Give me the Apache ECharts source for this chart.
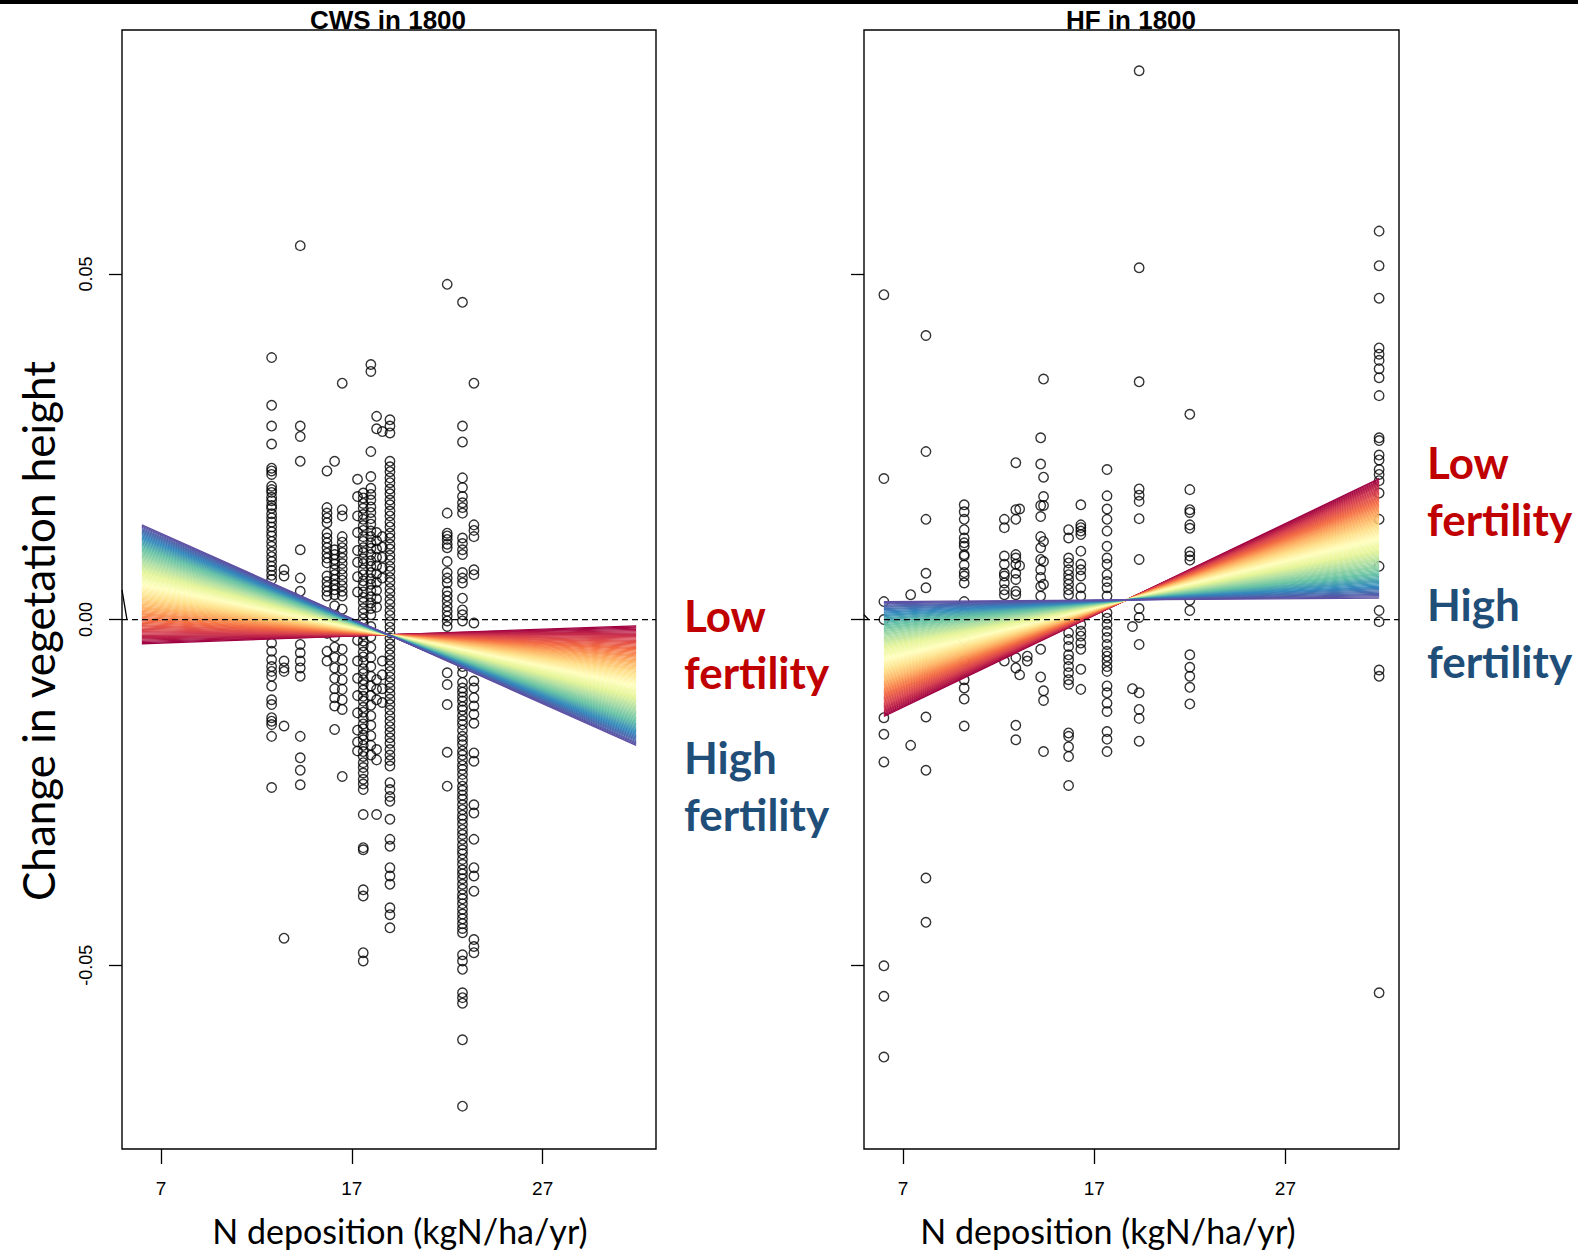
<!DOCTYPE html>
<html>
<head>
<meta charset="utf-8">
<title>Change in vegetation height vs N deposition</title>
<script src="https://cdn.jsdelivr.net/npm/echarts@6/dist/echarts.min.js"></script>
<style>
  html, body { margin: 0; padding: 0; background: #fff; }
  #chart { width: 1578px; height: 1251px; }
</style>
</head>
<body>
<div id="chart"></div>
<script>
// N deposition of each site group (kgN/ha/yr) and the observed change in height
const cwsN = [12.8, 13.45, 14.3, 15.7, 16.1, 16.5, 17.3, 17.6, 18.0, 18.3, 18.6, 19.0, 22.0, 22.8, 23.4];
const cwsChange = [
  [0.0379, 0.0310, 0.0280, 0.0254, 0.0219, 0.0215, 0.0210, 0.0193, 0.0188, 0.0184, 0.0177, 0.0172, 0.0165, 0.0161, 0.0153, 0.0147, 0.0141, 0.0134, 0.0127, 0.0121, 0.0113, 0.0106, 0.0098, 0.0091, 0.0084, 0.0077, 0.0071, 0.0064, 0.0058, 0.0044, 0.0029, 0.0012, -0.0034, -0.0046, -0.0058, -0.0068, -0.0075, -0.0082, -0.0096, -0.0116, -0.0123, -0.0142, -0.0147, -0.0152, -0.0169, -0.0243],
  [0.0072, 0.0063, -0.0060, -0.0070, -0.0075, -0.0154, -0.0461],
  [0.0541, 0.0280, 0.0265, 0.0229, 0.0101, 0.0060, 0.0041, -0.0036, -0.0048, -0.0060, -0.0070, -0.0082, -0.0169, -0.0200, -0.0218, -0.0239],
  [0.0215, 0.0162, 0.0154, 0.0147, 0.0140, 0.0125, 0.0118, 0.0111, 0.0104, 0.0096, 0.0089, 0.0082, 0.0063, 0.0055, 0.0048, 0.0041, 0.0034, 0.0010, -0.0020, -0.0046, -0.0060],
  [0.0229, 0.0101, 0.0094, 0.0087, 0.0080, 0.0072, 0.0065, 0.0058, 0.0050, 0.0043, 0.0036, 0.0020, 0.0005, -0.0010, -0.0025, -0.0040, -0.0055, -0.0070, -0.0085, -0.0100, -0.0113, -0.0125, -0.0159],
  [0.0342, 0.0159, 0.0150, 0.0120, 0.0112, 0.0104, 0.0097, 0.0089, 0.0081, 0.0073, 0.0065, 0.0057, 0.0049, 0.0041, 0.0034, 0.0015, -0.0005, -0.0043, -0.0058, -0.0072, -0.0087, -0.0101, -0.0116, -0.0130, -0.0227],
  [0.0203, 0.0178, 0.0150, 0.0126, 0.0100, 0.0083, 0.0062, 0.0040, -0.0030, -0.0060, -0.0085, -0.0110, -0.0135, -0.0160, -0.0177, -0.0190],
  [0.0183, 0.0176, 0.0168, 0.0161, 0.0152, 0.0145, 0.0136, 0.0129, 0.0120, 0.0113, 0.0104, 0.0097, 0.0088, 0.0081, 0.0072, 0.0065, 0.0056, 0.0049, 0.0040, 0.0032, 0.0025, 0.0016, 0.0009, 0.0001, -0.0006, -0.0014, -0.0022, -0.0031, -0.0038, -0.0047, -0.0054, -0.0062, -0.0071, -0.0078, -0.0087, -0.0094, -0.0102, -0.0111, -0.0118, -0.0127, -0.0134, -0.0142, -0.0151, -0.0158, -0.0167, -0.0174, -0.0182, -0.0191, -0.0198, -0.0207, -0.0214, -0.0222, -0.0231, -0.0238, -0.0246, -0.0282, -0.0330, -0.0333, -0.0391, -0.0400, -0.0482, -0.0494],
  [0.0369, 0.0359, 0.0243, 0.0207, 0.0190, 0.0181, 0.0173, 0.0163, 0.0155, 0.0146, 0.0138, 0.0128, 0.0120, 0.0111, 0.0103, 0.0094, 0.0085, 0.0077, 0.0068, 0.0059, 0.0051, 0.0042, 0.0033, 0.0024, 0.0016, 0.0007, -0.0010, -0.0025, -0.0040, -0.0055, -0.0068, -0.0082, -0.0096, -0.0110, -0.0124, -0.0139, -0.0153, -0.0168, -0.0182, -0.0196],
  [0.0294, 0.0276, 0.0126, 0.0114, 0.0102, 0.0090, 0.0078, 0.0066, 0.0054, 0.0042, 0.0030, 0.0018, -0.0087, -0.0101, -0.0116, -0.0188, -0.0203, -0.0282],
  [0.0272, 0.0120, 0.0105, 0.0090, 0.0075, 0.0060, -0.0060, -0.0080, -0.0100, -0.0120],
  [0.0289, 0.0280, 0.0270, 0.0229, 0.0221, 0.0214, 0.0205, 0.0198, 0.0189, 0.0182, 0.0173, 0.0166, 0.0157, 0.0150, 0.0141, 0.0134, 0.0125, 0.0118, 0.0109, 0.0102, 0.0093, 0.0086, 0.0077, 0.0070, 0.0061, 0.0054, 0.0045, 0.0038, 0.0029, 0.0022, 0.0013, 0.0006, -0.0003, -0.0011, -0.0019, -0.0027, -0.0035, -0.0043, -0.0051, -0.0059, -0.0067, -0.0075, -0.0083, -0.0091, -0.0099, -0.0107, -0.0115, -0.0123, -0.0131, -0.0139, -0.0147, -0.0155, -0.0163, -0.0171, -0.0179, -0.0188, -0.0196, -0.0204, -0.0212, -0.0236, -0.0246, -0.0256, -0.0263, -0.0289, -0.0318, -0.0328, -0.0359, -0.0371, -0.0383, -0.0417, -0.0427, -0.0446],
  [0.0485, 0.0154, 0.0125, 0.0121, 0.0116, 0.0109, 0.0104, 0.0084, 0.0068, 0.0060, 0.0053, 0.0041, 0.0034, 0.0027, 0.0019, 0.0012, 0.0005, -0.0002, -0.0010, -0.0077, -0.0094, -0.0123, -0.0192, -0.0241],
  [0.0459, 0.0280, 0.0257, 0.0205, 0.0191, 0.0178, 0.0169, 0.0162, 0.0154, 0.0118, 0.0110, 0.0101, 0.0094, 0.0068, 0.0060, 0.0053, 0.0031, 0.0014, 0.0007, -0.0002, -0.0030, -0.0050, -0.0068, -0.0077, -0.0091, -0.0099, -0.0105, -0.0112, -0.0118, -0.0126, -0.0131, -0.0139, -0.0146, -0.0152, -0.0160, -0.0169, -0.0175, -0.0181, -0.0190, -0.0196, -0.0203, -0.0211, -0.0217, -0.0224, -0.0232, -0.0241, -0.0247, -0.0254, -0.0260, -0.0268, -0.0275, -0.0283, -0.0289, -0.0296, -0.0304, -0.0311, -0.0318, -0.0326, -0.0333, -0.0339, -0.0347, -0.0354, -0.0362, -0.0368, -0.0375, -0.0383, -0.0390, -0.0398, -0.0404, -0.0411, -0.0419, -0.0426, -0.0433, -0.0440, -0.0447, -0.0453, -0.0485, -0.0494, -0.0506, -0.0540, -0.0547, -0.0555, -0.0608, -0.0704],
  [0.0342, 0.0137, 0.0129, 0.0120, 0.0072, 0.0065, -0.0005, -0.0089, -0.0099, -0.0113, -0.0125, -0.0137, -0.0150, -0.0193, -0.0205, -0.0268, -0.0280, -0.0318, -0.0359, -0.0371, -0.0393, -0.0463, -0.0473, -0.0482]
];

const hfN = [6.0, 7.4, 8.2, 10.2, 12.3, 12.9, 13.1, 13.5, 14.2, 14.35, 15.66, 16.3, 17.67, 19.0, 19.35, 22.0, 31.9];
const hfChange = [
  [0.0470, 0.0204, 0.0026, 0.0000, -0.0142, -0.0166, -0.0206, -0.0501, -0.0545, -0.0633],
  [0.0036, -0.0182],
  [0.0411, 0.0243, 0.0145, 0.0067, 0.0046, -0.0141, -0.0218, -0.0374, -0.0438],
  [0.0166, 0.0156, 0.0145, 0.0130, 0.0118, 0.0111, 0.0106, 0.0094, 0.0092, 0.0079, 0.0068, 0.0063, 0.0053, 0.0026, 0.0010, -0.0030, -0.0060, -0.0087, -0.0099, -0.0115, -0.0154],
  [0.0145, 0.0133, 0.0092, 0.0080, 0.0067, 0.0063, 0.0053, 0.0043, 0.0036, 0.0015, -0.0020, -0.0060],
  [0.0227, 0.0159, 0.0145, 0.0094, 0.0089, 0.0080, 0.0067, 0.0058, 0.0041, 0.0036, -0.0055, -0.0070, -0.0153, -0.0174],
  [0.0160, 0.0078, -0.0080],
  [-0.0053, -0.0060],
  [0.0263, 0.0225, 0.0165, 0.0149, 0.0120, 0.0104, 0.0087, 0.0072, 0.0061, 0.0048, 0.0034, -0.0043, -0.0083],
  [0.0348, 0.0206, 0.0178, 0.0165, 0.0113, 0.0084, 0.0051, -0.0103, -0.0117, -0.0191],
  [0.0130, 0.0118, 0.0089, 0.0082, 0.0072, 0.0065, 0.0058, 0.0051, 0.0043, 0.0036, -0.0019, -0.0029, -0.0039, -0.0051, -0.0058, -0.0068, -0.0077, -0.0087, -0.0094, -0.0164, -0.0169, -0.0184, -0.0198, -0.0240],
  [0.0166, 0.0137, 0.0133, 0.0128, 0.0123, 0.0099, 0.0080, 0.0072, 0.0063, 0.0046, 0.0034, -0.0007, -0.0017, -0.0024, -0.0034, -0.0043, -0.0072, -0.0101],
  [0.0217, 0.0179, 0.0160, 0.0145, 0.0128, 0.0106, 0.0089, 0.0080, 0.0065, 0.0055, 0.0046, 0.0034, 0.0010, 0.0002, -0.0007, -0.0017, -0.0026, -0.0036, -0.0046, -0.0053, -0.0060, -0.0068, -0.0075, -0.0096, -0.0106, -0.0121, -0.0133, -0.0162, -0.0173, -0.0191],
  [-0.0010, -0.0100],
  [0.0794, 0.0509, 0.0344, 0.0189, 0.0180, 0.0171, 0.0146, 0.0087, 0.0016, 0.0003, -0.0036, -0.0106, -0.0130, -0.0143, -0.0176],
  [0.0297, 0.0188, 0.0159, 0.0155, 0.0137, 0.0132, 0.0098, 0.0092, 0.0086, 0.0028, 0.0013, -0.0051, -0.0069, -0.0082, -0.0098, -0.0122],
  [0.0562, 0.0512, 0.0465, 0.0393, 0.0384, 0.0375, 0.0363, 0.0350, 0.0324, 0.0263, 0.0259, 0.0238, 0.0231, 0.0217, 0.0210, 0.0201, 0.0183, 0.0145, 0.0077, 0.0013, -0.0003, -0.0073, -0.0082, -0.0540]
];

// fitted lines at both ends of the fertility gradient, at N = 6 and N = 31.9
const fitN = [6, 31.9];
const cwsLowFert = [-0.0035, -0.0009];
const cwsHighFert = [0.0137, -0.0182];
const hfLowFert = [-0.0140, 0.0204];
const hfHighFert = [0.0026, 0.0031];
const fertSteps = 100;

const xTicks = [7, 17, 27];
const yTicks = [-0.05, 0, 0.05];

// RColorBrewer Spectral, low fertility (red) -> high fertility (blue)
const spectral = ['#9E0142', '#D53E4F', '#F46D43', '#FDAE61', '#FEE08B', '#FFFFBF', '#E6F598', '#ABDDA4', '#66C2A5', '#3288BD', '#5E4FA2'];

function hexToRgb(h) {
  return [parseInt(h.slice(1, 3), 16), parseInt(h.slice(3, 5), 16), parseInt(h.slice(5, 7), 16)];
}
function spectralAt(f) {
  const p = f * (spectral.length - 1);
  const i = Math.min(Math.floor(p), spectral.length - 2);
  const t = p - i;
  const a = hexToRgb(spectral[i]), b = hexToRgb(spectral[i + 1]);
  const c = a.map((v, k) => Math.round(v + (b[k] - v) * t));
  return 'rgb(' + c.join(',') + ')';
}

function toPoints(ns, vals) {
  const pts = [];
  ns.forEach((n, i) => vals[i].forEach(v => pts.push([n, v])));
  return pts;
}

function fanSeries(idx, low, high) {
  const out = [];
  for (let i = 0; i < fertSteps; i++) {
    const f = i / (fertSteps - 1);
    out.push({
      type: 'line',
      xAxisIndex: idx, yAxisIndex: idx,
      data: fitN.map((n, k) => [n, low[k] + (high[k] - low[k]) * f]),
      showSymbol: false, silent: true, z: 3,
      lineStyle: { color: spectralAt(f), width: 1.3 }
    });
  }
  return out;
}

const X_MIN = 4.96, X_MAX = 32.94;
const Y_MIN = -0.0766, Y_MAX = 0.0853;

function xAxis(idx) {
  return {
    type: 'value', gridIndex: idx, min: X_MIN, max: X_MAX,
    axisLine: { show: false, onZero: false },
    splitLine: { show: false },
    axisTick: { customValues: xTicks, length: 15, lineStyle: { color: '#000', width: 1.3 } },
    axisLabel: { customValues: xTicks, color: '#000', fontSize: 19, fontFamily: 'Liberation Sans', margin: 30 }
  };
}
function yAxis(idx) {
  return {
    type: 'value', gridIndex: idx, min: Y_MIN, max: Y_MAX,
    axisLine: { show: false, onZero: false },
    splitLine: { show: false },
    axisTick: { customValues: yTicks, length: 13, lineStyle: { color: '#000', width: 1.3 } },
    axisLabel: {
      show: idx === 0, customValues: yTicks, rotate: 90, color: '#000',
      fontSize: 18, fontFamily: 'Liberation Sans', margin: 27,
      formatter: v => v.toFixed(2)
    }
  };
}

const pointStyle = { color: 'rgba(0,0,0,0)', borderColor: '#000', borderWidth: 1.4 };

const series = [
  { type: 'scatter', xAxisIndex: 0, yAxisIndex: 0, data: toPoints(cwsN, cwsChange), symbol: 'circle', symbolSize: 9.5, itemStyle: pointStyle, z: 2 },
  { type: 'scatter', xAxisIndex: 1, yAxisIndex: 1, data: toPoints(hfN, hfChange), symbol: 'circle', symbolSize: 9.5, itemStyle: pointStyle, z: 2 }
].concat(fanSeries(0, cwsLowFert, cwsHighFert), fanSeries(1, hfLowFert, hfHighFert));

// zero reference line and the small stroke at the axis, in both panels
[0, 1].forEach(idx => {
  series.push({
    type: 'line', xAxisIndex: idx, yAxisIndex: idx, data: [[X_MIN, 0], [X_MAX, 0]],
    showSymbol: false, silent: true, z: 4,
    lineStyle: { color: '#000', width: 1.2, type: [6, 4] }
  });
  series.push({
    type: 'line', xAxisIndex: idx, yAxisIndex: idx,
    data: idx === 0 ? [[X_MIN, 0.0043], [5.22, 0]] : [[X_MIN, 0.0007], [5.2, 0]],
    showSymbol: false, silent: true, z: 4,
    lineStyle: { color: '#000', width: 1.3 }
  });
});

const red = '#C00000', blue = '#1F4E79';
function label(text, x, y, color) {
  return { type: 'text', x: x, y: y, silent: true,
    style: { text: text, fill: color, font: 'bold 44px Lato', textAlign: 'left', textVerticalAlign: 'middle' } };
}
function axisTitle(text, x, y, size, rotation) {
  return { type: 'text', x: x, y: y, rotation: rotation || 0, silent: true,
    style: { text: text, fill: '#000', font: size + 'px Lato', textAlign: 'center', textVerticalAlign: 'middle' } };
}

const chart = echarts.init(document.getElementById('chart'), null, { renderer: 'svg' });
chart.setOption({
  animation: false,
  backgroundColor: '#fff',
  grid: [
    { left: 122, top: 30, width: 534, height: 1119, show: true, borderColor: '#000', borderWidth: 1.4, outerBoundsMode: 'none' },
    { left: 864, top: 30, width: 535, height: 1119, show: true, borderColor: '#000', borderWidth: 1.4, outerBoundsMode: 'none' }
  ],
  xAxis: [xAxis(0), xAxis(1)],
  yAxis: [yAxis(0), yAxis(1)],
  series: series,
  graphic: [
    { type: 'rect', shape: { x: 0, y: 0, width: 1578, height: 4 }, style: { fill: '#000' }, silent: true },
    { type: 'text', x: 388, y: 20, silent: true,
      style: { text: 'CWS in 1800', fill: '#000', font: 'bold 26px "Liberation Sans"', textAlign: 'center', textVerticalAlign: 'middle' } },
    { type: 'text', x: 1131, y: 20, silent: true,
      style: { text: 'HF in 1800', fill: '#000', font: 'bold 26px "Liberation Sans"', textAlign: 'center', textVerticalAlign: 'middle' } },
    axisTitle('N deposition (kgN/ha/yr)', 400, 1230, 34),
    axisTitle('N deposition (kgN/ha/yr)', 1108, 1230, 34),
    axisTitle('Change in vegetation height', 38, 631, 44, Math.PI / 2),
    label('Low', 684, 615, red),
    label('fertility', 684, 672, red),
    label('High', 684, 757, blue),
    label('fertility', 684, 814, blue),
    label('Low', 1427, 462, red),
    label('fertility', 1427, 519, red),
    label('High', 1427, 604, blue),
    label('fertility', 1427, 661, blue)
  ]
});
</script>
</body>
</html>
